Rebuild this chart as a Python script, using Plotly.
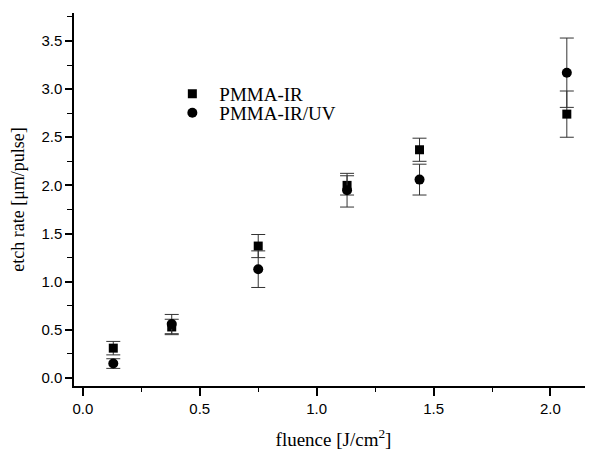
import plotly.graph_objects as go

fluence = [0.13, 0.38, 0.75, 1.13, 1.44, 2.07]
ir_rate = [0.31, 0.53, 1.37, 2.00, 2.37, 2.74]
ir_err = [0.07, 0.08, 0.12, 0.10, 0.12, 0.24]
iruv_rate = [0.15, 0.56, 1.13, 1.95, 2.06, 3.17]
iruv_err = [0.05, 0.10, 0.19, 0.175, 0.16, 0.36]

serif = "Liberation Serif, Times New Roman, serif"
sans = "Liberation Sans, Arial, sans-serif"

fig = go.Figure()
fig.add_trace(go.Scatter(
    x=fluence, y=ir_rate, mode="markers", name="PMMA-IR", legend="legend",
    marker=dict(symbol="square", size=9, color="black"),
    error_y=dict(type="data", array=ir_err, visible=True, color="#333333", thickness=1, width=7),
))
fig.add_trace(go.Scatter(
    x=fluence, y=iruv_rate, mode="markers", name="PMMA-IR/UV", legend="legend2",
    marker=dict(symbol="circle", size=10, color="black"),
    error_y=dict(type="data", array=iruv_err, visible=True, color="#333333", thickness=1, width=7),
))

leg_common = dict(xanchor="left", yanchor="middle",
                  font=dict(family=serif, size=19, color="black"),
                  bgcolor="rgba(0,0,0,0)", itemwidth=44)

fig.update_layout(
    width=585, height=442,
    margin=dict(l=66, r=0, t=5, b=64, autoexpand=False),
    paper_bgcolor="white", plot_bgcolor="white",
    showlegend=True,
    legend=dict(x=0.176, y=0.783, **leg_common),
    legend2=dict(x=0.176, y=0.732, **leg_common),
    xaxis=dict(
        automargin=False,
        range=[-0.038, 2.182], tickmode="array",
        tickvals=[0.0, 0.5, 1.0, 1.5, 2.0], ticktext=["0.0", "0.5", "1.0", "1.5", "2.0"],
        showgrid=False, zeroline=False, showline=True, linecolor="black", linewidth=1.5,
        ticks="outside", ticklen=8, tickwidth=1.5, tickcolor="black",
        minor=dict(dtick=0.25, tick0=0, ticks="outside", ticklen=4, tickwidth=1, tickcolor="black", showgrid=False),
        tickfont=dict(family=sans, size=15, color="black"),
        title=dict(text="fluence [J/cm<sup>2</sup>]", font=dict(family=serif, size=19, color="black"), standoff=19),
    ),
    yaxis=dict(
        automargin=False,
        range=[-0.083, 3.79], tickmode="array",
        tickvals=[0.0, 0.5, 1.0, 1.5, 2.0, 2.5, 3.0, 3.5],
        ticktext=["0.0", "0.5", "1.0", "1.5", "2.0", "2.5", "3.0", "3.5"],
        showgrid=False, zeroline=False, showline=True, linecolor="black", linewidth=1.5,
        ticks="outside", ticklen=7, tickwidth=1.5, tickcolor="black",
        minor=dict(dtick=0.25, tick0=0, ticks="outside", ticklen=5, tickwidth=1, tickcolor="black", showgrid=False),
        tickfont=dict(family=sans, size=15, color="black"),
        title=dict(text="etch rate [μm/pulse]", font=dict(family=serif, size=18, color="black"), standoff=15),
    ),
)

fig.write_html("out.html")
